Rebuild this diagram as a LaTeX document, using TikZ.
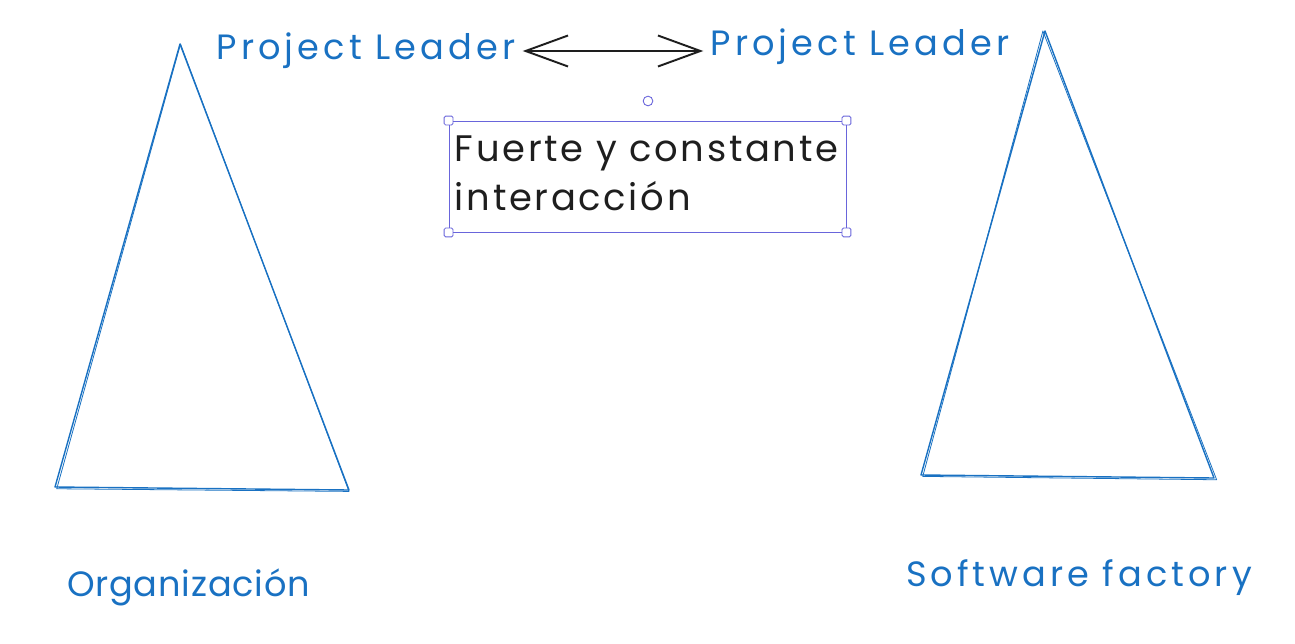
\documentclass[tikz,border=0pt]{standalone}
\usepackage{fontspec}
\setmainfont{Poppins}
\usetikzlibrary{positioning,arrows.meta,calc}
\definecolor{exblue}{HTML}{1971C2}
\definecolor{exink}{HTML}{1E1E1E}
\definecolor{exsel}{HTML}{6965DB}
\tikzset{
  sketch/.style={draw=exblue,line width=0.8pt,line join=round},
  sketchb/.style={draw=exblue,line width=0.45pt,line join=round},
  bluelabel/.style={text=exblue,font=\fontsize{20}{24}\selectfont\addfontfeatures{LetterSpace=#1},inner sep=0pt},
  bluelabel/.default=0,
  notetext/.style={text=exink,font=\fontsize{21}{28}\selectfont\addfontfeatures{LetterSpace=7.3},align=left,inner sep=0pt},
  selbox/.style={draw=exsel,line width=0.5pt},
  handle/.style={draw=exsel,fill=white,line width=0.5pt,rounded corners=0.8pt,minimum size=5pt,inner sep=0pt},
  rothandle/.style={draw=exsel,fill=white,line width=0.5pt,circle,minimum size=5.5pt,inner sep=0pt},
  both/.style={{Straight Barb[length=8.5mm,width=6.2mm]}-{Straight Barb[length=8.5mm,width=6.2mm]}}
}
\begin{document}
\begin{tikzpicture}
  \useasboundingbox (0,0) rectangle (25.9,-12.88);

  % organizacion
  \coordinate (oa) at (3.60,-0.88);
  \coordinate (ol) at (1.10,-9.74);
  \coordinate (or) at (6.98,-9.80);
  \draw[sketch] (oa) -- (ol) -- (or) -- cycle;
  \draw[sketchb] ([xshift=0.3pt]oa) -- ([xshift=1pt,yshift=-1pt]ol) -- ([yshift=-0.8pt]or) -- cycle;

  % software factory
  \coordinate (sa) at (20.90,-0.62);
  \coordinate (sl) at (18.42,-9.50);
  \coordinate (sr) at (24.28,-9.56);
  \draw[sketch] (sa) -- (sl) -- (sr) -- cycle;
  \draw[sketchb] ([xshift=-1.2pt]sa) -- ([xshift=1pt,yshift=-0.8pt]sl) -- ([xshift=1.5pt,yshift=-1pt]sr) -- cycle;

  \node[bluelabel=11.7] (pl1) at (7.32,-1.02) {Project Leader};
  \node[bluelabel=11.7] (pl2) at (17.20,-0.94) {Project Leader};
  \coordinate (ae) at ([xshift=-4pt]pl2.west |- pl1.east);
  \draw[exink,line width=1.1pt,both] ([xshift=4pt]pl1.east) -- (ae);

  \node[bluelabel=2.3] (org) at (3.77,-11.74) {Organización};
  \node[bluelabel=11.5] (sf) at (21.58,-11.56) {Software factory};

  % nota seleccionada
  \node[selbox,minimum width=7.94cm,minimum height=2.22cm,inner sep=0pt] (nota) at (12.95,-3.53) {};
  \node[notetext,anchor=north west] (txt) at ($(nota.north west)+(0.12,-0.3)$) {Fuerte y constante\\interacción};
  \node[handle] at (nota.north west) {};
  \node[handle] at (nota.north east) {};
  \node[handle] at (nota.south west) {};
  \node[handle] at (nota.south east) {};
  \node[rothandle] (rot) at (12.96,-2.02) {};
\end{tikzpicture}
\end{document}
